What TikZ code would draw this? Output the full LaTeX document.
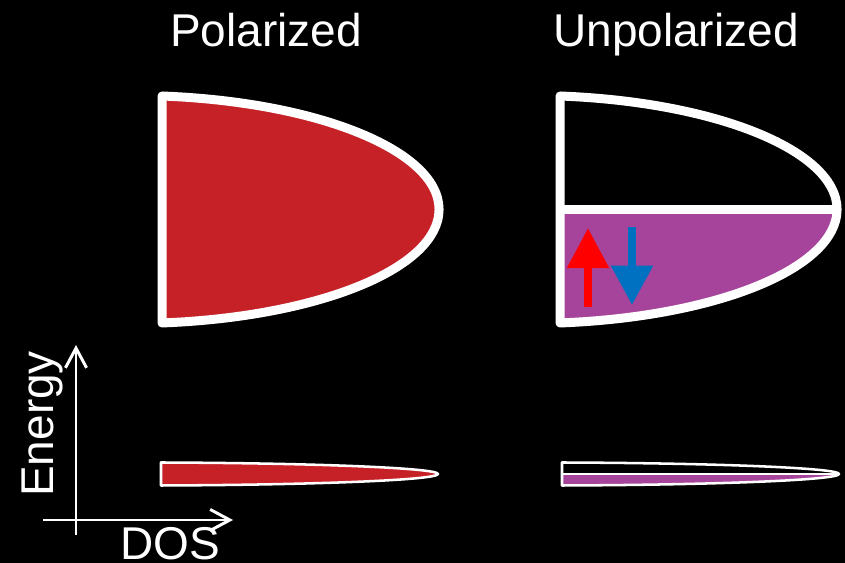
\documentclass[tikz,border=0pt]{standalone}
\usepackage{fontspec}
\setmainfont{Liberation Sans}
\usetikzlibrary{arrows.meta}

\definecolor{bandred}{RGB}{197,33,39}
\definecolor{bandpurple}{RGB}{165,68,154}
\definecolor{spinred}{RGB}{255,0,0}
\definecolor{spinblue}{RGB}{0,112,192}

\begin{document}
\begin{tikzpicture}[x=0.025cm,y=0.025cm,
  band/.style={draw=white, line width=6.4pt, line join=round},
  thinband/.style={draw=white, line width=1.8pt, line join=round},
  label/.style={text=white, inner sep=0pt, font=\fontsize{32.7}{39}\selectfont},
  axis/.style={draw=white, line width=2.1pt, -{Straight Barb[length=14pt,width=15pt,line width=2.1pt]}}]

% background
 \fill[black] (0,0) rectangle (845,563);
 \useasboundingbox (0,0) rectangle (845,563);

% Titles
 \node[label, anchor=base west] (pol) at (170,516) {Polarized};
 \node[label, anchor=base west] (unpol) at (553,516) {Unpolarized};

% Polarized
 \draw[band, fill=bandred] (162,240) -- (162,467)
   arc[start angle=84.06, end angle=-84.06, x radius=309, y radius=114.1] -- cycle;

% Unpolarized
 \fill[bandpurple] (560,353.5) -- (837,353.5)
   arc[start angle=0, end angle=-84.06, x radius=309, y radius=114.1] -- cycle;
 \draw[band] (560,240) -- (560,467)
   arc[start angle=84.06, end angle=-84.06, x radius=309, y radius=114.1] -- cycle;
 \draw[band] (560,353.5) -- (837,353.5);

% Spins
 \coordinate (upfoot) at (588,256);
 \coordinate (uptip) at (588,335);
 \coordinate (downfoot) at (632,336);
 \coordinate (downtip) at (632,258);
 \draw[spinred, line width=5.7pt, -{Triangle[length=28.5pt,width=28.5pt]}] (upfoot) -- (uptip);
 \draw[spinblue, line width=5.7pt, -{Triangle[length=28pt,width=28.5pt]}] (downfoot) -- (downtip);

% Narrow bands
 \draw[thinband, fill=bandred] (161,77.5) -- (161,100.5)
   arc[start angle=84.06, end angle=-84.06, x radius=309, y radius=11.56] -- cycle;
 \fill[bandpurple] (562,89) -- (840,89)
   arc[start angle=0, end angle=-84.06, x radius=309, y radius=11.56] -- cycle;
 \draw[thinband] (562,77.5) -- (562,100.5)
   arc[start angle=84.06, end angle=-84.06, x radius=309, y radius=11.56] -- cycle;
 \draw[thinband] (562,89) -- (840,89);

% Axes
 \coordinate (ebot) at (76,28);
 \coordinate (etop) at (76,218);
 \coordinate (dleft) at (43,43);
 \coordinate (dright) at (233,43);
 \draw[axis] (ebot) -- (etop);
 \draw[axis] (dleft) -- (dright);
 \node[label, rotate=90, anchor=base west] (energy) at (53,66) {Energy};
 \node[label, anchor=base west] (dos) at (120,3) {DOS};

\end{tikzpicture}
\end{document}
